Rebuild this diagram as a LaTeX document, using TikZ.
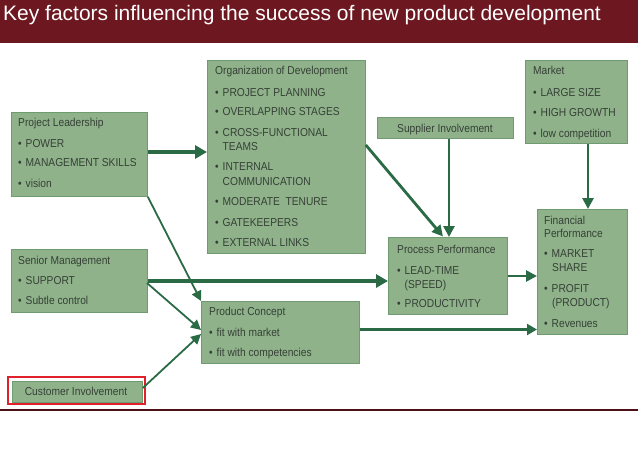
\documentclass[tikz,border=0pt]{standalone}
\usepackage{fontspec}
\setmainfont{Liberation Sans}
\newfontfamily\boxfont{Liberation Sans}[FakeStretch=0.89]
\usetikzlibrary{arrows.meta}
\definecolor{barred}{HTML}{6D1720}
\definecolor{boxfill}{HTML}{8FB28B}
\definecolor{boxline}{HTML}{6F9B70}
\definecolor{boxtext}{HTML}{354035}
\definecolor{arrowgreen}{HTML}{2A6B46}
\definecolor{hilite}{HTML}{E0202A}
\newcommand\mybul{\makebox[7.5pt][l]{\textbullet}}
\tikzset{
  factorbox/.style={draw=boxline, line width=0.8pt, fill=boxfill, inner sep=0pt, anchor=north west},
  ln/.style={anchor=base west, inner sep=0pt, text=boxtext, font=\boxfont\fontsize{11.5}{13}\selectfont},
  lnc/.style={ln, anchor=base},
  thickarrow/.style={draw=arrowgreen, line width=3.8pt, -{Triangle[length=12pt,width=13pt]}},
  midarrow/.style={draw=arrowgreen, line width=2.8pt, -{Triangle[length=11pt,width=11pt]}},
  thinarrow/.style={draw=arrowgreen, line width=1.8pt, -{Triangle[length=10pt,width=10pt]}},
}
\begin{document}
\begin{tikzpicture}[x=1pt,y=-1pt]
\useasboundingbox (0,0) rectangle (638,452);
% title bar
\fill[barred] (0,0) rectangle (638,43);
\node[anchor=base west, inner sep=0pt, text=white, font=\fontsize{21}{24}\selectfont] (title) at (3,21) {Key factors influencing the success of new product development};
\draw[barred!70!black, line width=1.2pt] (0,410) -- (638,410);

% boxes
\node[factorbox, minimum width=136pt, minimum height=84pt] (pl) at (11,112) {};
\node[factorbox, minimum width=158pt, minimum height=193pt] (od) at (207,60) {};
\node[factorbox, minimum width=136pt, minimum height=21pt] (si) at (377,117) {};
\node[factorbox, minimum width=102pt, minimum height=83pt] (mk) at (525,60) {};
\node[factorbox, minimum width=90pt, minimum height=125pt] (fp) at (537,209) {};
\node[factorbox, minimum width=119pt, minimum height=77pt] (pp) at (388,237) {};
\node[factorbox, minimum width=136pt, minimum height=63pt] (sm) at (11,249) {};
\node[factorbox, minimum width=158pt, minimum height=62pt] (pc) at (201,301) {};
\draw[hilite, line width=1.8pt] (8,377) rectangle (145,404);
\node[factorbox, minimum width=130pt, minimum height=21pt] (ci) at (12,381) {};

% texts
\node[ln] (pl1) at (18,127) {Project Leadership};
\node[ln] (pl2) at (18,147) {\mybul POWER};
\node[ln] (pl3) at (18,167) {\mybul MANAGEMENT SKILLS};
\node[ln] (pl4) at (18,187) {\mybul vision};

\node[ln] (od1) at (215,75) {Organization of Development};
\node[ln] (od2) at (215,96) {\mybul PROJECT PLANNING};
\node[ln] (od3) at (215,116) {\mybul OVERLAPPING STAGES};
\node[ln] (od4) at (215,136) {\mybul CROSS-FUNCTIONAL};
\node[ln] (od5) at (222.5,150) {TEAMS};
\node[ln] (od6) at (215,171) {\mybul INTERNAL};
\node[ln] (od7) at (222.5,185) {COMMUNICATION};
\node[ln] (od8) at (215,205) {\mybul MODERATE\ \ TENURE};
\node[ln] (od9) at (215,226) {\mybul GATEKEEPERS};
\node[ln] (od10) at (215,246) {\mybul EXTERNAL LINKS};

\node[lnc] (si1) at (445,132) {Supplier Involvement};

\node[ln] (mk1) at (533,75) {Market};
\node[ln] (mk2) at (533,96) {\mybul LARGE SIZE};
\node[ln] (mk3) at (533,117) {\mybul HIGH GROWTH};
\node[ln] (mk4) at (533,137) {\mybul low competition};

\node[ln] (fp1) at (544,224) {Financial};
\node[ln] (fp2) at (544,237) {Performance};
\node[ln] (fp3) at (544,257) {\mybul MARKET};
\node[ln] (fp4) at (552,271) {SHARE};
\node[ln] (fp5) at (544,292) {\mybul PROFIT};
\node[ln] (fp6) at (552,306) {(PRODUCT)};
\node[ln] (fp7) at (544,327) {\mybul Revenues};

\node[ln] (pp1) at (397,253) {Process Performance};
\node[ln] (pp2) at (397,274) {\mybul LEAD-TIME};
\node[ln] (pp3) at (404.5,288) {(SPEED)};
\node[ln] (pp4) at (397,307) {\mybul PRODUCTIVITY};

\node[ln] (sm1) at (18,264) {Senior Management};
\node[ln] (sm2) at (18,284) {\mybul SUPPORT};
\node[ln] (sm3) at (18,304) {\mybul Subtle control};

\node[ln] (pc1) at (209,315) {Product Concept};
\node[ln] (pc2) at (209,336) {\mybul fit with market};
\node[ln] (pc3) at (209,356) {\mybul fit with competencies};

\node[lnc] (ci1) at (76,395) {Customer Involvement};

% connectors
\draw[thickarrow] (pl.east |- 0,152) -- (od.west |- 0,152);
\draw[thickarrow] (sm.east |- 0,281) -- (pp.west |- 0,281);
\draw[thinarrow] (pl.south east) -- (pc.north west);
\draw[thinarrow] (147,283) -- (pc.west |- 0,330);
\draw[thinarrow] (ci.east |- 0,388) -- (pc.west |- 0,334);
\draw[midarrow] (od.east |- 0,145) -- (443,236.5);
\draw[midarrow] (si.south -| 449,0) -- (pp.north -| 449,0);
\draw[midarrow] (mk.south -| 588,0) -- (fp.north -| 588,0);
\draw[midarrow] (pp.east |- 0,276) -- (fp.west |- 0,276);
\draw[draw=arrowgreen, line width=2.2pt, -{Triangle[length=10pt,width=11pt]}] (pc.east |- 0,329.5) -- (fp.west |- 0,329.5);
\end{tikzpicture}
\end{document}
